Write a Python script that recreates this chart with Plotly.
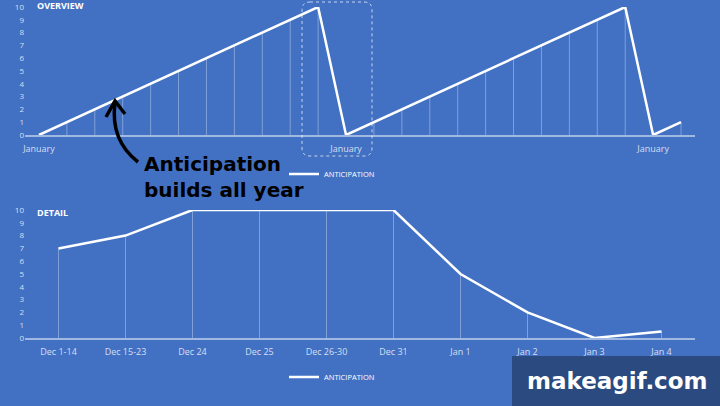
import plotly.graph_objects as go

# overview: anticipation climbs every month, resets each January
overview_x = list(range(24))
overview_vals = [0, 1, 2, 3, 4, 5, 6, 7, 8, 9, 10,
                 0, 1, 2, 3, 4, 5, 6, 7, 8, 9, 10,
                 0, 1]
overview_tick_idx = [0, 11, 22]
overview_tick_txt = ["January", "January", "January"]

# detail: around the holidays
detail_labels = ["Dec 1-14", "Dec 15-23", "Dec 24", "Dec 25", "Dec 26-30",
                 "Dec 31", "Jan 1", "Jan 2", "Jan 3", "Jan 4"]
detail_vals = [7, 8, 10, 10, 10, 10, 5, 2, 0, 0.5]

W, H = 720, 406
BG = "#4271c4"
TICK = "rgba(255,255,255,0.78)"
DROP = "rgba(255,255,255,0.33)"
BASE = "rgba(255,255,255,0.5)"


def px(x, y):
    # pixel -> paper coords (no margins)
    return x / W, 1 - y / H


def drop_lines(vals):
    return dict(type="data", symmetric=False, array=[0] * len(vals),
                arrayminus=vals, width=0, thickness=1, color=DROP)


fig = go.Figure()

fig.add_trace(go.Scatter(
    x=overview_x, y=overview_vals, mode="lines", name="ANTICIPATION",
    line=dict(color="white", width=2.5), error_y=drop_lines(overview_vals),
    xaxis="x", yaxis="y", legend="legend", cliponaxis=False
))

fig.add_trace(go.Scatter(
    x=list(range(len(detail_labels))), y=detail_vals, mode="lines", name="ANTICIPATION",
    line=dict(color="white", width=2.5), error_y=drop_lines(detail_vals),
    xaxis="x2", yaxis="y2", legend="legend2", cliponaxis=False
))

xdom = [25 / W, 695 / W]
axis_font = dict(family="Open Sans", size=9, color=TICK)
common_x = dict(showgrid=False, zeroline=False, showline=True, linecolor=BASE,
                linewidth=1.5, tickfont=axis_font, ticks="", automargin=False,
                ticklabelstandoff=4)
common_y = dict(range=[0, 10], dtick=1, showgrid=False, zeroline=False,
                tickfont=dict(family="Open Sans", size=8, color=TICK),
                ticks="", automargin=False)
legend_style = dict(xanchor="center", yanchor="middle", orientation="h",
                    bgcolor="rgba(0,0,0,0)", itemwidth=30,
                    font=dict(family="Open Sans", size=7.5, color="white"))

fig.update_layout(
    width=W, height=H,
    margin=dict(l=0, r=0, t=0, b=0, autoexpand=False),
    paper_bgcolor=BG, plot_bgcolor=BG,
    font=dict(family="Open Sans", color="white"),
    xaxis=dict(domain=xdom, anchor="y", range=[-0.5, 23.5],
               tickvals=overview_tick_idx, ticktext=overview_tick_txt, **common_x),
    yaxis=dict(domain=[1 - 135 / H, 1 - 7 / H], anchor="x", **common_y),
    xaxis2=dict(domain=xdom, anchor="y2", range=[-0.5, 9.5],
                tickvals=list(range(len(detail_labels))), ticktext=detail_labels, **common_x),
    yaxis2=dict(domain=[1 - 338 / H, 1 - 210 / H], anchor="x2", **common_y),
    legend=dict(x=332 / W, y=1 - 174 / H, **legend_style),
    legend2=dict(x=332 / W, y=1 - 377 / H, **legend_style),
    showlegend=True,
)

# panel titles
for txt, y in [("OVERVIEW", 6), ("DETAIL", 212)]:
    fig.add_annotation(text="<b>%s</b>" % txt, x=35 / W, y=1 - y / H, xref="paper", yref="paper",
                       xanchor="left", yanchor="middle", showarrow=False,
                       font=dict(family="Open Sans", size=9, color="white"))

# dashed highlight round the reset
x0, y0 = px(302, 2)
x1, y1 = px(372, 156)
r = 8
rx, ry = r / W, r / H
fig.add_shape(type="path", xref="paper", yref="paper",
              path=(f"M {x0 + rx},{y0} L {x1 - rx},{y0} Q {x1},{y0} {x1},{y0 - ry} "
                    f"L {x1},{y1 + ry} Q {x1},{y1} {x1 - rx},{y1} "
                    f"L {x0 + rx},{y1} Q {x0},{y1} {x0},{y1 + ry} "
                    f"L {x0},{y0 - ry} Q {x0},{y0} {x0 + rx},{y0} Z"),
              line=dict(color="rgba(255,255,255,0.7)", width=1, dash="dot"))

# callout text + curved arrow
fig.add_annotation(text="<b>Anticipation<br>builds all year</b>", x=142 / W, y=1 - 177 / H,
                   xref="paper", yref="paper", xanchor="left", yanchor="middle",
                   align="left", showarrow=False,
                   font=dict(family="DejaVu Sans", size=20, color="black"))
a = px(138, 162)
c = px(110, 140)
b = px(115, 103)
fig.add_shape(type="path", xref="paper", yref="paper",
              path=f"M {a[0]},{a[1]} Q {c[0]},{c[1]} {b[0]},{b[1]}",
              line=dict(color="black", width=3.5))
l = px(106, 117)
t = px(115, 101)
rr = px(125, 114)
fig.add_shape(type="path", xref="paper", yref="paper",
              path=f"M {l[0]},{l[1]} L {t[0]},{t[1]} L {rr[0]},{rr[1]}",
              line=dict(color="black", width=3.5))

# watermark
wx0, wy0 = px(512, 356)
fig.add_shape(type="rect", xref="paper", yref="paper", x0=wx0, y0=wy0, x1=1, y1=0,
              fillcolor="#2b4a7f", line=dict(width=0), layer="above")
fig.add_annotation(text="<b>makeagif.com</b>", x=617 / W, y=1 - 381 / H,
                   xref="paper", yref="paper", xanchor="center", yanchor="middle",
                   showarrow=False,
                   font=dict(family="DejaVu Sans", size=23, color="white"))

fig.write_html("out.html", config={"displayModeBar": False},
               post_script="document.body.style.margin='0';")
